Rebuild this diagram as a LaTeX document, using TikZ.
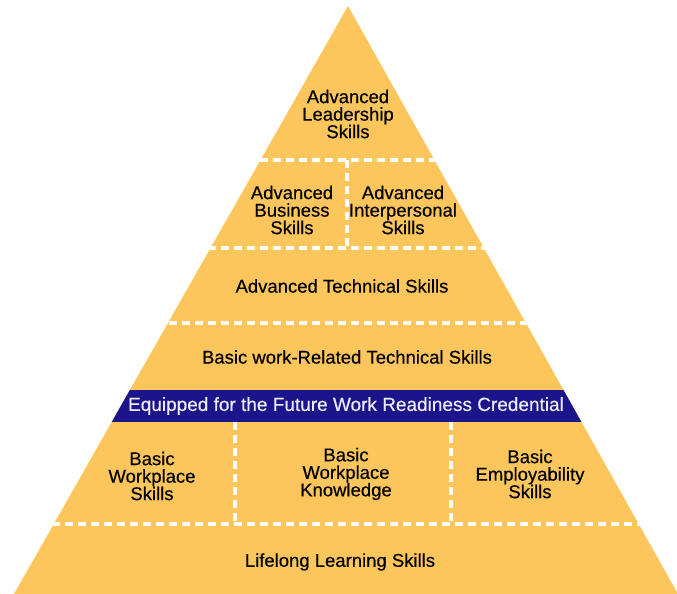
\documentclass[tikz,border=0pt]{standalone}
\usepackage{fontspec}
\setmainfont{Liberation Sans}[FakeBold=0.4]
\definecolor{pyrfill}{RGB}{252,198,92}
\definecolor{bandblue}{RGB}{28,20,138}
\definecolor{bandtext}{RGB}{238,236,252}
\begin{document}
\begin{tikzpicture}[x=1pt,y=-1pt,
  label/.style={align=center,inner sep=0pt,text=black,
    font=\fontsize{18.5}{17.5}\selectfont},
  divider/.style={draw=white,line width=4pt,dash pattern=on 8pt off 5pt}]
\useasboundingbox (0,0) rectangle (677,594);
% pyramid body
\coordinate (apex) at (348,6);
\coordinate (bl) at (14,594);
\coordinate (br) at (678,594);
\fill[pyrfill] (apex) -- (bl) -- (br) -- cycle;
\begin{scope}
  \clip (apex) -- (bl) -- (br) -- cycle;
  % credential band
  \fill[bandblue] (0,390) rectangle (677,422);
  % horizontal tier dividers
  \foreach \yy in {160,248,323,524}
    \draw[divider] (0,\yy) -- (677,\yy);
\end{scope}
% vertical dividers
\draw[divider] (347,160) -- (347,248);
\draw[divider] (235,422) -- (235,524);
\draw[divider] (451,422) -- (451,524);
% tier labels
\node[label] (lead) at (348,114) {Advanced\\Leadership\\Skills};
\node[label] (bus) at (292,210) {Advanced\\Business\\Skills};
\node[label] (inter) at (403,210) {Advanced\\Interpersonal\\Skills};
\node[label] (tech) at (342,286) {Advanced Technical Skills};
\node[label] (basictech) at (347,357) {Basic work-Related Technical Skills};
\node[label,text=bandtext,font=\fontsize{19}{19}\selectfont] (cred) at (346,406) {Equipped for the Future Work Readiness Credential};
\node[label] (wps) at (152,476) {Basic\\Workplace\\Skills};
\node[label] (wpk) at (346,474) {Basic\\Workplace\\Knowledge};
\node[label] (emp) at (530,474) {Basic\\Employability\\Skills};
\node[label] (life) at (340,562) {Lifelong Learning Skills};
\end{tikzpicture}
\end{document}
